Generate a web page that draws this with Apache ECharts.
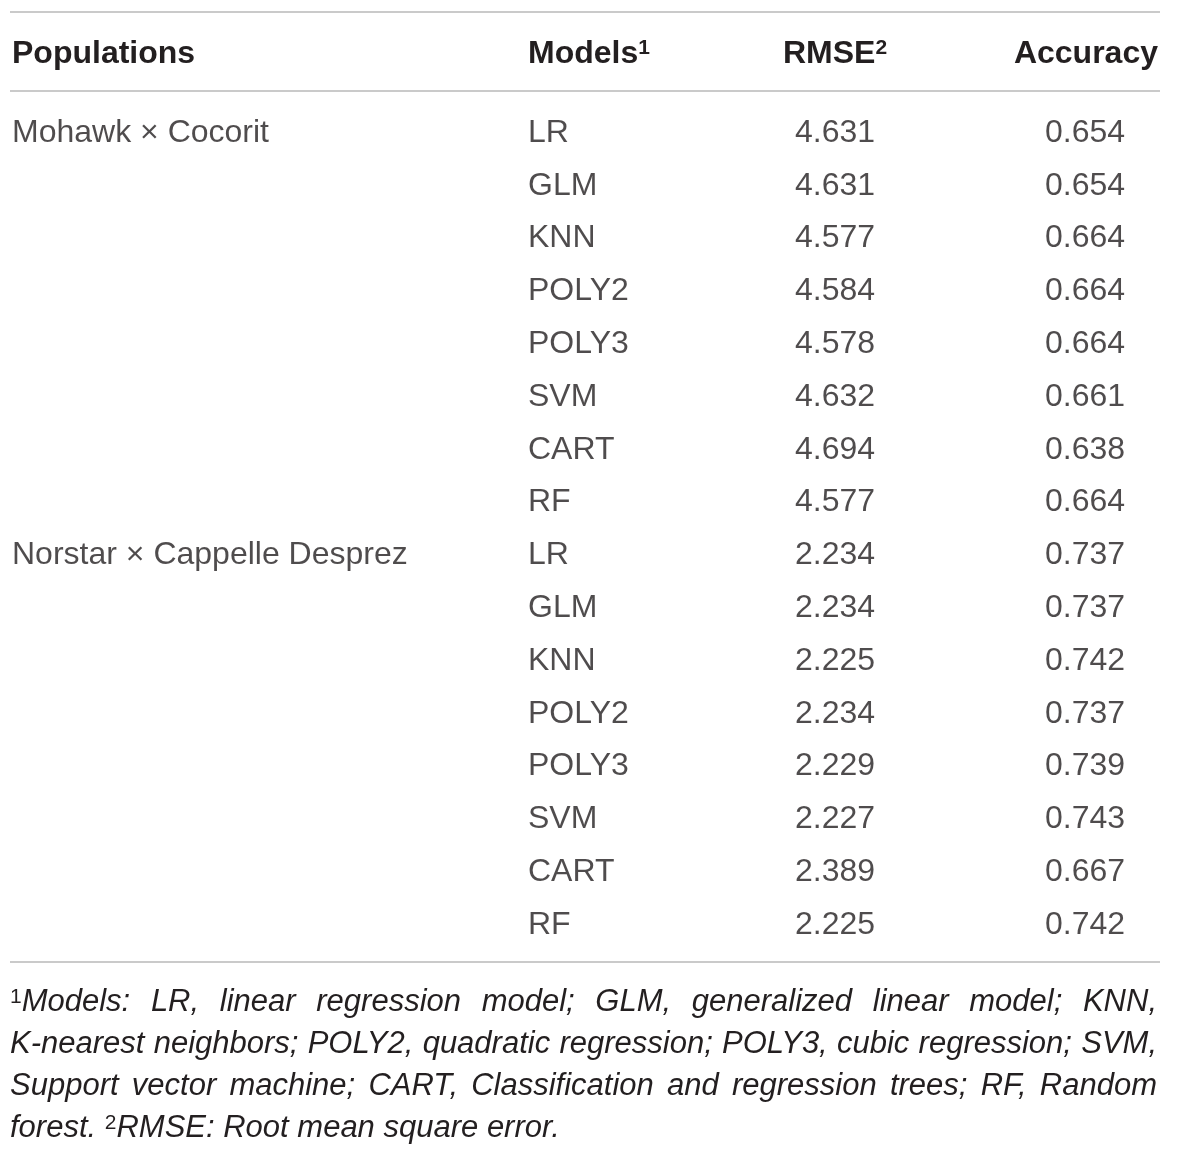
<!DOCTYPE html>
<html>
<head>
<meta charset="utf-8">
<script src="https://cdn.jsdelivr.net/npm/echarts@6/dist/echarts.min.js"></script>
<style>
html,body{margin:0;padding:0;background:#ffffff;}
#chart{width:1200px;height:1155px;}
</style>
</head>
<body>
<div id="chart"></div>
<script>
// ---------------- data ----------------
const populations = ['Mohawk × Cocorit', 'Norstar × Cappelle Desprez'];
const models = ['LR', 'GLM', 'KNN', 'POLY2', 'POLY3', 'SVM', 'CART', 'RF'];
const rmseMohawk = [4.631, 4.631, 4.577, 4.584, 4.578, 4.632, 4.694, 4.577];
const rmseNorstar = [2.234, 2.234, 2.225, 2.234, 2.229, 2.227, 2.389, 2.225];
const accMohawk = [0.654, 0.654, 0.664, 0.664, 0.664, 0.661, 0.638, 0.664];
const accNorstar = [0.737, 0.737, 0.742, 0.737, 0.739, 0.743, 0.667, 0.742];
const headers = ['Populations', 'Models', 'RMSE', 'Accuracy'];
const headerNotes = ['', '1', '2', ''];
const footnoteLines = [
  '^1Models: LR, linear regression model; GLM, generalized linear model; KNN,',
  'K-nearest neighbors; POLY2, quadratic regression; POLY3, cubic regression; SVM,',
  'Support vector machine; CART, Classification and regression trees; RF, Random',
  'forest. ^2RMSE: Root mean square error.'
];

// ---------------- style / layout ----------------
const FONT = '"Liberation Sans", Arial, Helvetica, sans-serif';
const INK = '#231f20';
const RULE = '#b8b8b8';
const BODY_SIZE = 32;
const HEAD_SIZE = 32;
const SUP_SIZE = 21;
const NOTE_SIZE = 31;
const NOTE_SUP = 21;
const COLS = [
  { x: 12, align: 'left' },
  { x: 528, align: 'left' },
  { x: 835, align: 'center' },
  { x: 1085, align: 'center' }
];
const HEAD_POS = [
  { x: 12, align: 'left' },
  { x: 528, align: 'left' },
  { x: 835, align: 'center' },
  { x: 1158, align: 'right' }
];
const HEAD_Y = 54;
const RULE_Y = [12, 91, 962];
const RULE_X = [10, 1160];
const NOTE_LEFT = 10, NOTE_RIGHT = 1157, NOTE_Y0 = 1002, NOTE_DY = 42;
const ROW_H = 52.8, FIRST_ROW = 133;

// ---------------- build table rows ----------------
const rowKeys = [];
const colCells = [[], [], [], []];
populations.forEach(function (pop, p) {
  const rm = p === 0 ? rmseMohawk : rmseNorstar;
  const ac = p === 0 ? accMohawk : accNorstar;
  models.forEach(function (m, i) {
    rowKeys.push('r' + rowKeys.length);
    colCells[0].push(i === 0 ? pop : '');
    colCells[1].push(m);
    colCells[2].push(rm[i].toFixed(3));
    colCells[3].push(ac[i].toFixed(3));
  });
});

const series = colCells.map(function (cells, c) {
  return {
    type: 'scatter',
    silent: true,
    symbolSize: 1,
    itemStyle: { color: 'rgba(0,0,0,0)' },
    data: cells.map(function (t, r) { return [COLS[c].x, r, t]; }),
    label: {
      show: true,
      position: 'inside',
      align: COLS[c].align,
      verticalAlign: 'middle',
      fontFamily: FONT,
      fontSize: BODY_SIZE,
      color: INK,
      formatter: function (p) { return p.data[2]; }
    }
  };
});

// ---------------- graphics: rules, headers, footnote ----------------
const graphics = [];
RULE_Y.forEach(function (y) {
  graphics.push({
    type: 'line', silent: true,
    shape: { x1: RULE_X[0], y1: y, x2: RULE_X[1], y2: y },
    style: { stroke: RULE, lineWidth: 1.5 }
  });
});

headers.forEach(function (h, i) {
  const note = headerNotes[i];
  graphics.push({
    type: 'text', silent: true,
    x: HEAD_POS[i].x, y: HEAD_Y,
    style: {
      text: note ? '{m|' + h + '}{s|' + note + '}' : '{m|' + h + '}',
      align: HEAD_POS[i].align,
      verticalAlign: 'middle',
      rich: {
        m: { fontFamily: FONT, fontSize: HEAD_SIZE, fontWeight: 'bold', fill: INK, color: INK },
        s: { fontFamily: FONT, fontSize: SUP_SIZE, fontWeight: 'bold', fill: INK, color: INK, verticalAlign: 'top' }
      }
    }
  });
});

const ctx = document.createElement('canvas').getContext('2d');
function measure(text, size, italic) {
  ctx.font = (italic ? 'italic ' : '') + 'normal ' + size + 'px ' + FONT;
  return ctx.measureText(text).width;
}
footnoteLines.forEach(function (line, li) {
  const words = line.split(' ');
  const parts = words.map(function (w) {
    if (w.charAt(0) === '^') {
      const sup = w.charAt(1), main = w.slice(2);
      return { sup: sup, main: main, w: measure(sup, NOTE_SUP, false) + measure(main, NOTE_SIZE, true) };
    }
    return { sup: '', main: w, w: measure(w, NOTE_SIZE, true) };
  });
  const total = parts.reduce(function (a, p) { return a + p.w; }, 0);
  const last = li === footnoteLines.length - 1;
  const gap = last ? measure(' ', NOTE_SIZE, true) : (NOTE_RIGHT - NOTE_LEFT - total) / (parts.length - 1);
  let x = NOTE_LEFT;
  const y = NOTE_Y0 + li * NOTE_DY;
  parts.forEach(function (p) {
    graphics.push({
      type: 'text', silent: true,
      x: x, y: y,
      style: {
        text: p.sup ? '{s|' + p.sup + '}{m|' + p.main + '}' : '{m|' + p.main + '}',
        align: 'left',
        verticalAlign: 'middle',
        rich: {
          m: { fontFamily: FONT, fontSize: NOTE_SIZE, fontStyle: 'italic', fill: INK, color: INK },
          s: { fontFamily: FONT, fontSize: NOTE_SUP, fill: INK, color: INK, verticalAlign: 'top' }
        }
      }
    });
    x += p.w + gap;
  });
});

// ---------------- chart ----------------
const chart = echarts.init(document.getElementById('chart'), null, { renderer: 'canvas' });
const gridTop = FIRST_ROW - ROW_H / 2;
chart.setOption({
  backgroundColor: '#ffffff',
  animation: false,
  grid: { left: 0, right: 0, top: gridTop, height: ROW_H * rowKeys.length, containLabel: false },
  xAxis: { type: 'value', min: 0, max: 1200, show: false },
  yAxis: { type: 'category', data: rowKeys, inverse: true, show: false },
  series: series,
  graphic: graphics
});
</script>
</body>
</html>
